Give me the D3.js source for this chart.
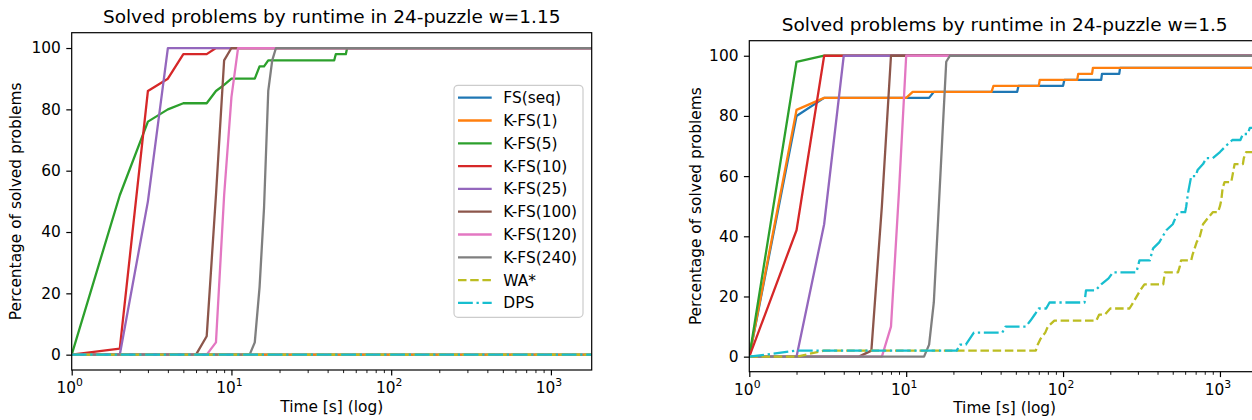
<!DOCTYPE html>
<html>
<head>
<meta charset="utf-8">
<script src="https://cdn.jsdelivr.net/npm/d3@7"></script>
<style>
body { margin: 0; background: #fff; overflow: hidden; }
svg text { font-family: "DejaVu Sans", sans-serif; fill: #000; }
</style>
</head>
<body>
<div id="chart"></div>
<script>
(function () {
	// series names, colours and dashes (matplotlib tab10)
	var names = ["FS(seq)", "K-FS(1)", "K-FS(5)", "K-FS(10)", "K-FS(25)", "K-FS(100)", "K-FS(120)", "K-FS(240)", "WA*", "DPS"];
	var colors = ["#1f77b4", "#ff7f0e", "#2ca02c", "#d62728", "#9467bd", "#8c564b", "#e377c2", "#7f7f7f", "#bcbd22", "#17becf"];
	var dashes = [null, null, null, null, null, null, null, null, "8.5,3.7", "14.8,3.7,2.3,3.7"];

	var xMajor = [1, 10, 100, 1000];
	var xExp = ["0", "1", "2", "3"];
	var yTicks = [0, 20, 40, 60, 80, 100];

	// w=1.15 : [time (s), % solved]
	var fsSeq115 = [[1,0],[1800,0]];
	var kfs1_115 = [[1,0],[1800,0]];
	var kfs5_115 = [[1,0],[2,52],[3,76],[4,80],[5,82],[7,82],[8,86],[9,88],[10,90],[14,90],[15,94],[16,94],[17,96],[44,96],[45,98],[52,98],[53,100],[1800,100]];
	var kfs10_115 = [[1,0],[2,2],[3,86],[4,90],[5,98],[7,98],[8,100],[1800,100]];
	var kfs25_115 = [[1,0],[2,0],[3,50],[4,100],[1800,100]];
	var kfs100_115 = [[1,0],[6,0],[7,6],[8,52],[9,96],[10,100],[1800,100]];
	var kfs120_115 = [[1,0],[7,0],[8,4],[9,52],[10,84],[11,100],[1800,100]];
	var kfs240_115 = [[1,0],[13,0],[14,4],[15,22],[16,48],[17,86],[18,96],[19,100],[1800,100]];
	var wa_115 = [[1,0],[1800,0]];
	var dps_115 = [[1,0],[1800,0]];

	// w=1.5
	var fsSeq15 = [[1,0],[2,80],[3,86],[14,86],[15,88],[51,88],[52,90],[100,90],[102,92],[175,92],[177,94],[228,94],[231,96],[1800,96]];
	var kfs1_15 = [[1,0],[2,82],[3,86],[10,86],[11,88],[35,88],[36,90],[70,90],[71,92],[123,92],[125,94],[153,94],[155,96],[1800,96]];
	var kfs5_15 = [[1,0],[2,98],[3,100],[1800,100]];
	var kfs10_15 = [[1,0],[2,42],[3,100],[1800,100]];
	var kfs25_15 = [[1,0],[2,0],[3,44],[4,100],[1800,100]];
	var kfs100_15 = [[1,0],[5,0],[6,2],[7,50],[8,100],[1800,100]];
	var kfs120_15 = [[1,0],[7,0],[8,10],[9,55],[10,100],[1800,100]];
	var kfs240_15 = [[1,0],[13,0],[14,4],[15,18],[16,46],[17,73],[18,98],[19,100],[1800,100]];
	var wa_15 = [[1,0],[2,0],[3,2],[67,2],[69,4],[72,6],[77,8],[80,10],[88,12],[163,12],[170,14],[185,14],[200,16],[265,16],[280,18],[310,22],[330,24],[435,24],[445,28],[540,28],[555,30],[565,32],[656,32],[670,34],[710,38],[745,40],[780,44],[835,46],[900,48],[970,48],[1000,50],[1020,52],[1040,56],[1070,58],[1180,58],[1200,60],[1240,64],[1400,64],[1420,66],[1470,68],[1800,68]];
	var dps_15 = [[1,0],[2,2],[21,2],[22,4],[24,4],[27,8],[41,8],[43,10],[58,10],[62,12],[66,14],[70,16],[78,16],[82,18],[137,18],[140,22],[161,22],[175,24],[195,26],[208,28],[293,28],[300,30],[307,32],[357,32],[375,36],[410,38],[455,42],[500,44],[540,48],[600,48],[610,50],[624,54],[656,60],[700,60],[720,62],[780,64],[820,66],[900,66],[1000,68],[1090,70],[1200,72],[1350,72],[1400,74],[1500,74],[1550,76],[1800,76]];

	var panels = [
		{id: "a", title: "Solved problems by runtime in 24-puzzle w=1.15", left: 71.7, right: 591.7, top: 32.7, bottom: 370, ylab: 21, legend: true,
		 series: [fsSeq115, kfs1_115, kfs5_115, kfs10_115, kfs25_115, kfs100_115, kfs120_115, kfs240_115, wa_115, dps_115]},
		{id: "b", title: "Solved problems by runtime in 24-puzzle w=1.5", left: 749.3, right: 1260, top: 40.7, bottom: 371.7, ylab: 701, legend: false,
		 series: [fsSeq15, kfs1_15, kfs5_15, kfs10_15, kfs25_15, kfs100_15, kfs120_15, kfs240_15, wa_15, dps_15]}
	];

	var svg = d3.select("#chart").append("svg")
		.attr("width", 1252)
		.attr("height", 420);

	panels.forEach(function (p) {
		var x = d3.scaleLog().domain([1, 1800]).range([p.left, p.right]);
		var y = d3.scaleLinear().domain([-5, 105]).range([p.bottom, p.top]);
		var cx = (p.left + p.right) / 2;

		svg.append("clipPath").attr("id", "clip-" + p.id)
			.append("rect")
				.attr("x", p.left).attr("y", p.top)
				.attr("width", p.right - p.left).attr("height", p.bottom - p.top);

		var line = d3.line()
			.x(function (d) { return x(d[0]); })
			.y(function (d) { return y(d[1]); });

		var g = svg.append("g").attr("clip-path", "url(#clip-" + p.id + ")");
		g.selectAll("path")
			.data(p.series)
			.enter()
			.append("path")
				.attr("d", line)
				.attr("fill", "none")
				.attr("stroke", function (d, i) { return colors[i]; })
				.attr("stroke-width", 2.3)
				.attr("stroke-linejoin", "round")
				.attr("stroke-dasharray", function (d, i) { return dashes[i]; });

		// frame
		svg.append("rect")
			.attr("x", p.left).attr("y", p.top)
			.attr("width", p.right - p.left).attr("height", p.bottom - p.top)
			.attr("fill", "none").attr("stroke", "#000").attr("stroke-width", 1.2);

		// x axis: major + minor
		var xAxis = svg.append("g")
			.attr("transform", "translate(0," + p.bottom + ")")
			.call(d3.axisBottom(x).tickValues(xMajor).tickSize(5.4).tickPadding(5.4).tickFormat(function () { return ""; }));
		xAxis.select(".domain").remove();
		xAxis.selectAll(".tick line").attr("stroke-width", 1.2);
		xAxis.selectAll(".tick text").remove();

		var minor = x.ticks().filter(function (v) { return xMajor.indexOf(v) < 0; });
		var xMinor = svg.append("g")
			.attr("transform", "translate(0," + p.bottom + ")")
			.call(d3.axisBottom(x).tickValues(minor).tickSize(3.1).tickFormat(function () { return ""; }));
		xMinor.select(".domain").remove();
		xMinor.selectAll(".tick line").attr("stroke-width", 0.9);
		xMinor.selectAll(".tick text").remove();

		xMajor.forEach(function (v, i) {
			var t = svg.append("text")
				.attr("x", x(v) - 2)
				.attr("y", p.bottom + 23)
				.attr("text-anchor", "middle")
				.style("font-size", "15.4px");
			t.append("tspan").text("10");
			t.append("tspan").attr("dy", -7).style("font-size", "10.8px").text(xExp[i]);
		});

		// y axis
		var yAxis = svg.append("g")
			.attr("transform", "translate(" + p.left + ",0)")
			.call(d3.axisLeft(y).tickValues(yTicks).tickSize(5.4).tickPadding(5.4));
		yAxis.select(".domain").remove();
		yAxis.selectAll(".tick line").attr("stroke-width", 1.2);
		yAxis.selectAll(".tick text")
			.style("font-size", "15.4px")
			.style("font-family", "DejaVu Sans");

		// titles and labels
		svg.append("text")
			.attr("x", cx).attr("y", p.top - 9.5)
			.attr("text-anchor", "middle")
			.style("font-size", "18.5px")
			.text(p.title);

		svg.append("text")
			.attr("x", cx).attr("y", p.bottom + 41.5)
			.attr("text-anchor", "middle")
			.style("font-size", "15.4px")
			.text("Time [s] (log)");

		svg.append("text")
			.attr("transform", "translate(" + p.ylab + "," + ((p.top + p.bottom) / 2) + ") rotate(-90)")
			.attr("text-anchor", "middle")
			.style("font-size", "15.4px")
			.text("Percentage of solved problems");

		if (p.legend) {
			var lg = svg.append("g");
			lg.append("rect")
				.attr("x", 454).attr("y", 85.3)
				.attr("width", 129).attr("height", 232)
				.attr("rx", 4).attr("ry", 4)
				.attr("fill", "#fff").attr("fill-opacity", 0.8)
				.attr("stroke", "#ccc").attr("stroke-width", 1.2);
			names.forEach(function (n, i) {
				var ly = 97.7 + i * 22.8;
				lg.append("line")
					.attr("x1", 458).attr("x2", 491.7)
					.attr("y1", ly).attr("y2", ly)
					.attr("stroke", colors[i])
					.attr("stroke-width", 2.3)
					.attr("stroke-dasharray", dashes[i]);
				lg.append("text")
					.attr("x", 503.3).attr("y", ly + 5.5)
					.style("font-size", "15.4px")
					.text(n);
			});
		}
	});
})();
</script>
</body>
</html>
